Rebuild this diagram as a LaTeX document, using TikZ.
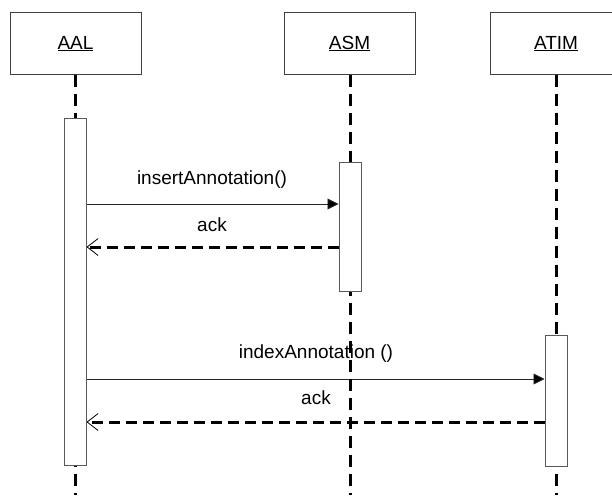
\documentclass[tikz,border=0pt]{standalone}
\usepackage{fontspec}
\setmainfont{Liberation Sans}
\usetikzlibrary{arrows.meta}
\begin{document}
\begin{tikzpicture}[x=1pt,y=-1pt,
  every node/.style={font=\fontsize{19}{23}\selectfont},
  objbox/.style={draw=black!75,line width=1pt,fill=white,minimum width=131pt,minimum height=61pt,inner sep=0pt},
  actbar/.style={draw=black!65,line width=1pt,fill=white,minimum width=22pt,inner sep=0pt},
  lifeline/.style={line width=3pt,dash pattern=on 12pt off 7pt},
  callmsg/.style={line width=0.9pt,draw=black!85,-{Triangle[length=11pt,width=11pt,fill=black]}},
  retmsg/.style={line width=3pt,dash pattern=on 11pt off 6pt,-{Straight Barb[length=11pt,width=17pt,line width=0.8pt]}},
  msglabel/.style={inner sep=0pt,anchor=center}]
\useasboundingbox (0,0) rectangle (612,495);
% objects
\node[objbox] (aal)  at (75.5,43.5) {\underline{AAL}};
\node[objbox] (asm)  at (349.5,43.5) {\underline{ASM}};
\node[objbox] (atim) at (556,43.5) {\underline{ATIM}};
% lifeline ends
\coordinate (aalend)  at (75.5,495);
\coordinate (asmend)  at (350,495);
\coordinate (atimend) at (556,495);
% message levels
\coordinate (y1) at (0,204);
\coordinate (y2) at (0,247);
\coordinate (y3) at (0,379);
\coordinate (y4) at (0,422);
% activation bars
\node[actbar,minimum height=347pt] (aalbar)  at (75,291.5) {};
\node[actbar,minimum height=129pt] (asmbar)  at (350,226.5) {};
\node[actbar,minimum height=131pt] (atimbar) at (556,400.5) {};
% messages
\draw[callmsg] (aalbar.east |- y1) -- (asmbar.west |- y1);
\draw[retmsg]  (asmbar.west |- y2) -- (aalbar.east |- y2);
\draw[callmsg] (aalbar.east |- y3) -- (atimbar.west |- y3);
\draw[retmsg]  (atimbar.west |- y4) -- (aalbar.east |- y4);
\node[msglabel] (m1) at (212,180) {insertAnnotation()};
\node[msglabel] (m2) at (212,225) {ack};
\node[msglabel] (m3) at (316,354) {indexAnnotation ()};
\node[msglabel] (m4) at (316,398) {ack};
% lifelines
\draw[lifeline] (aal.south |- aal.south) -- (aalend);
\draw[lifeline] (asm.south) ++(0.5,0) -- (asmend);
\draw[lifeline] (atim.south) -- (atimend);
% bars over the lifelines
\node[actbar,minimum height=347pt] at (aalbar) {};
\node[actbar,minimum height=129pt] at (asmbar) {};
\node[actbar,minimum height=131pt] at (atimbar) {};
\end{tikzpicture}
\end{document}
